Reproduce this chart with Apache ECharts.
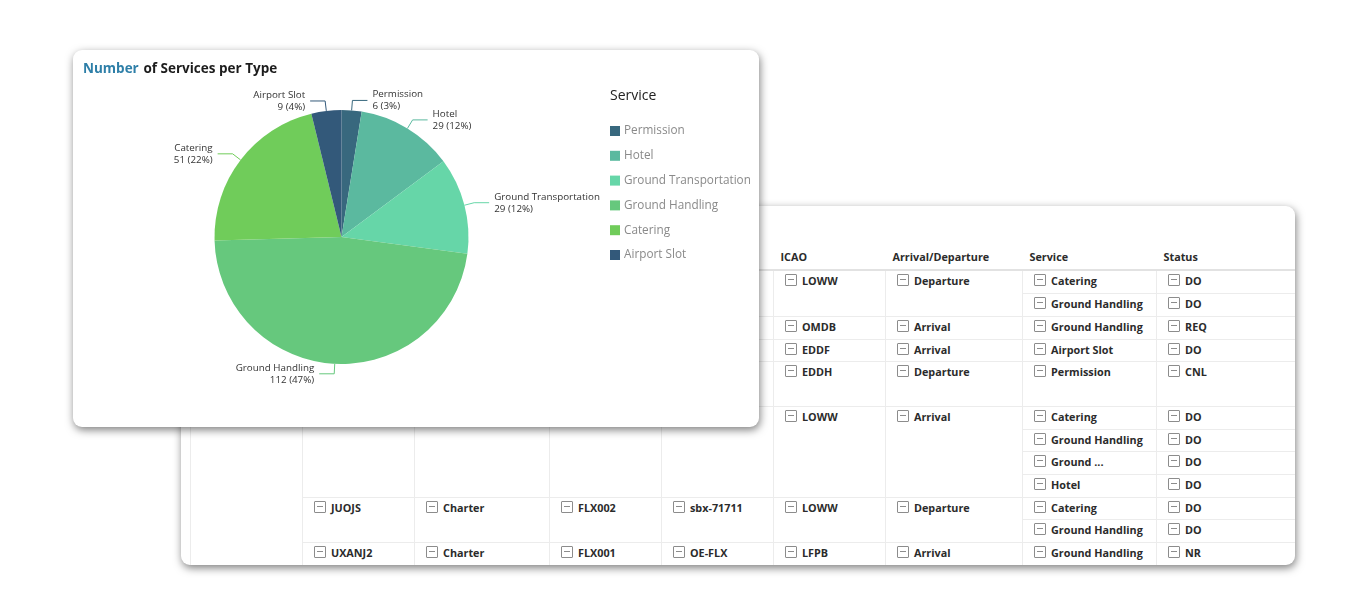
<!DOCTYPE html>
<html>
<head>
<meta charset="utf-8">
<script src="https://cdn.jsdelivr.net/npm/echarts@6/dist/echarts.min.js"></script>
<style>
    html, body { margin: 0; width: 1366px; height: 613px; background: #fff; overflow: hidden; font-family: "Open Sans", sans-serif; }
    .card { position: absolute; background: #fff; border-radius: 9px; box-shadow: 1px 3px 8px rgba(0, 0, 0, .5); overflow: hidden; }
    #tabla { left: 181px; top: 206px; width: 1114px; height: 359px; }
    #pie { left: 73px; top: 50px; width: 686px; height: 377px; }
    table { position: absolute; left: 9px; top: 37px; width: 1105px; border-collapse: collapse; table-layout: fixed; font-size: 10.8px; font-weight: 700; color: #2b2b2b; }
    th { text-align: left; padding: 0 0 0 7px; border-bottom: 2px solid #e2e2e2; height: 26px; font-weight: 700; }
    td { padding: 0 0 0 11px; border: 1px solid #ececec; vertical-align: top; line-height: 20px; white-space: nowrap; box-sizing: border-box; }
    tr > td:last-child { border-right: 0; }
    .chk { display: inline-block; position: relative; width: 10px; height: 10px; border: 1px solid #8c8c8c; border-radius: 1px; margin-right: 5px; vertical-align: -1px; }
    .chk::after { content: ""; position: absolute; left: 2px; right: 2px; top: 4px; height: 1px; background: #8c8c8c; }
</style>
</head>
<body>
<div id="tabla" class="card"></div>
<div id="pie" class="card"></div>
<script>
// Datos del grafico
const servicios = ['Permission', 'Hotel', 'Ground Transportation', 'Ground Handling', 'Catering', 'Airport Slot'];
const cantidades = [6, 29, 29, 112, 51, 9];
const colores = ['#38687e', '#5bb99f', '#66d6a8', '#66c87d', '#70cc5a', '#33597a'];

// Datos de la tabla
const columnas = ['', '', '', '', '', 'ICAO', 'Arrival/Departure', 'Service', 'Status'];
const anchos = [112, 112, 135, 112, 112, 112, 137, 134, 139];
const vuelos = [
    ['', '', '', '', 'LOWW', 'Departure', [['Catering', 'DO'], ['Ground Handling', 'DO']]],
    ['', '', '', '', 'OMDB', 'Arrival', [['Ground Handling', 'REQ']]],
    ['', '', '', '', 'EDDF', 'Arrival', [['Airport Slot', 'DO']]],
    ['', '', '', '', 'EDDH', 'Departure', [['Permission', 'CNL']]],
    ['', '', '', '', 'LOWW', 'Arrival', [['Catering', 'DO'], ['Ground Handling', 'DO'], ['Ground ...', 'DO'], ['Hotel', 'DO']]],
    ['JUOJS', 'Charter', 'FLX002', 'sbx-71711', 'LOWW', 'Departure', [['Catering', 'DO'], ['Ground Handling', 'DO']]],
    ['UXANJ2', 'Charter', 'FLX001', 'OE-FLX', 'LFPB', 'Arrival', [['Ground Handling', 'NR']]]
];
const altoFilas = [23, 23, 23, 22, 45, 23, 22, 23, 23, 22, 23, 23];

function celda(texto, filas) {
    const span = filas > 1 ? ` rowspan="${filas}"` : '';
    return `<td${span}>${texto ? `<span class="chk"></span>${texto}` : ''}</td>`;
}

function dibujarTabla() {
    let html = '<table><colgroup>' + anchos.map(a => `<col style="width:${a}px">`).join('') + '</colgroup>';
    html += '<tr>' + columnas.map(c => `<th>${c}</th>`).join('') + '</tr>';
    let fila = 0;
    vuelos.forEach(vuelo => {
        const lineas = vuelo[6];
        lineas.forEach((linea, i) => {
            html += `<tr style="height:${altoFilas[fila]}px">`;
            // la primera columna es una sola celda vacia para toda la tabla
            if (fila === 0) {
                html += celda('', altoFilas.length);
            }
            if (i === 0) {
                vuelo.slice(0, 6).forEach(texto => { html += celda(texto, lineas.length); });
            }
            html += celda(linea[0], 1) + celda(linea[1], 1) + '</tr>';
            fila++;
        });
    });
    document.getElementById('tabla').innerHTML = html + '</table>';
}

dibujarTabla();

const myChart = echarts.init(document.getElementById('pie'));

const option = {
    animation: false,
    textStyle: { fontFamily: 'Open Sans' },
    color: colores,
    title: [
        {
            left: 5, top: 5,
            text: '{a|Number} {b|of Services per Type}',
            textStyle: {
                rich: {
                    a: { fontFamily: 'Open Sans', fontSize: 13.5, fontWeight: 700, color: '#2e7fa8' },
                    b: { fontFamily: 'Open Sans', fontSize: 13.5, fontWeight: 700, color: '#1c1c1c' }
                }
            }
        },
        {
            left: 532, top: 34,
            text: 'Service',
            textStyle: { fontFamily: 'Open Sans', fontSize: 14, fontWeight: 400, color: '#222' }
        }
    ],
    legend: {
        orient: 'vertical',
        left: 537, top: 74,
        icon: 'rect',
        itemWidth: 10, itemHeight: 10, itemGap: 10.8,
        padding: 0,
        selectedMode: false,
        textStyle: { fontFamily: 'Open Sans', fontSize: 11.75, lineHeight: 14, color: '#8a8a8a', padding: [0, 0, 0, -1] },
        data: servicios
    },
    series: [
        {
            type: 'pie',
            center: [268.5, 187],
            radius: 127,
            percentPrecision: 0,
            avoidLabelOverlap: false,
            label: {
                formatter: '{b}\n{c} ({d}%)',
                fontFamily: 'Open Sans', fontSize: 9.8, lineHeight: 12, color: '#333'
            },
            labelLine: { length: 10, length2: 15, lineStyle: { width: 1 } },
            data: servicios.map((s, i) => ({ name: s, value: cantidades[i] }))
        }
    ]
};

option && myChart.setOption(option);
</script>
</body>
</html>
